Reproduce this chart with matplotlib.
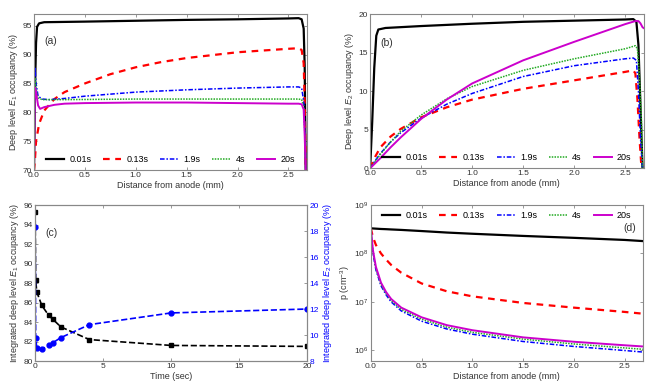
import numpy as np
import matplotlib
matplotlib.use("Agg")
import matplotlib.pyplot as plt
from matplotlib.ticker import NullLocator, MultipleLocator

plt.rcParams["font.family"] = ["Liberation Sans", "DejaVu Sans"]
plt.rcParams["mathtext.fontset"] = "custom"
plt.rcParams["mathtext.rm"] = "Liberation Sans"
plt.rcParams["mathtext.it"] = "Liberation Sans:italic"
plt.rcParams["font.size"] = 6.5

# ---- data ----
labels = ["0.01s", "0.13s", "1.9s", "4s", "20s"]

# (a) deep level E1 occupancy (%) vs distance (mm)
a_x_001 = [0, 0.01, 0.02, 0.03, 0.05, 0.1, 0.5, 1.0, 1.5, 2.0, 2.5, 2.6, 2.63, 2.65, 2.66, 2.67]
a_y_001 = [70, 84, 92, 94.8, 95.4, 95.6, 95.7, 95.85, 96.0, 96.1, 96.25, 96.3, 96.1, 94.5, 88, 70]
a_x_013 = [0, 0.01, 0.02, 0.05, 0.1, 0.2, 0.3, 0.5, 0.75, 1.0, 1.25, 1.5, 2.0, 2.5, 2.6, 2.63, 2.65, 2.66, 2.67]
a_y_013 = [70, 72, 75, 78, 80.3, 82.3, 83.5, 85.0, 86.6, 87.8, 88.7, 89.4, 90.4, 91.0, 91.1, 90.8, 88.5, 82, 70]
a_x_19 = [0, 0.005, 0.01, 0.02, 0.04, 0.08, 0.15, 0.3, 0.5, 1.0, 1.5, 2.0, 2.5, 2.6, 2.63, 2.65, 2.66, 2.67]
a_y_19 = [70, 80, 87.8, 85, 82.8, 82.3, 82.2, 82.4, 82.8, 83.5, 83.9, 84.2, 84.4, 84.4, 84.2, 82, 78, 70]
a_x_4 = [0, 0.005, 0.01, 0.02, 0.04, 0.08, 0.3, 1.0, 2.0, 2.6, 2.63, 2.65, 2.66, 2.67]
a_y_4 = [70, 80, 86, 84, 82.5, 82.2, 82.2, 82.3, 82.3, 82.3, 82.2, 81, 77, 70]
a_x_20 = [0, 0.005, 0.01, 0.02, 0.04, 0.06, 0.1, 0.2, 0.3, 0.5, 1.0, 1.5, 2.0, 2.5, 2.6, 2.63, 2.65, 2.66, 2.67]
a_y_20 = [70, 78, 84.3, 83.5, 81.2, 80.6, 80.9, 81.3, 81.5, 81.6, 81.7, 81.7, 81.6, 81.5, 81.5, 81.4, 80.5, 76, 70]

# (b) deep level E2 occupancy (%) vs distance (mm)
b_x_001 = [0, 0.02, 0.04, 0.06, 0.08, 0.15, 0.5, 1.0, 1.5, 2.0, 2.5, 2.58, 2.61, 2.63, 2.65, 2.67]
b_y_001 = [0, 6, 13, 17.2, 18.0, 18.2, 18.45, 18.75, 19.0, 19.15, 19.3, 19.35, 19.0, 16, 8, 0]
b_x_013 = [0, 0.05, 0.1, 0.2, 0.3, 0.5, 0.75, 1.0, 1.5, 2.0, 2.5, 2.58, 2.6, 2.62, 2.64, 2.66]
b_y_013 = [0, 1.5, 2.7, 4.1, 5.1, 6.6, 7.9, 8.9, 10.3, 11.4, 12.5, 12.7, 12.3, 9, 4, 0]
b_x_19 = [0, 0.05, 0.1, 0.2, 0.3, 0.5, 0.75, 1.0, 1.5, 2.0, 2.5, 2.58, 2.61, 2.63, 2.65, 2.67]
b_y_19 = [0, 1.0, 1.9, 3.4, 4.6, 6.5, 8.3, 9.7, 11.9, 13.3, 14.2, 14.3, 14.0, 10, 4, 0]
b_x_4 = [0, 0.05, 0.1, 0.2, 0.3, 0.5, 0.75, 1.0, 1.5, 2.0, 2.5, 2.6, 2.62, 2.64, 2.66, 2.67]
b_y_4 = [0, 0.9, 1.8, 3.4, 4.8, 6.9, 9.0, 10.6, 12.7, 14.2, 15.5, 15.9, 15.5, 12, 6, 0]
b_x_20 = [0, 0.1, 0.2, 0.3, 0.5, 0.75, 1.0, 1.5, 2.0, 2.5, 2.6, 2.63, 2.65, 2.67, 2.68]
b_y_20 = [0, 1.3, 2.7, 4.0, 6.4, 8.9, 11.0, 14.0, 16.4, 18.7, 19.1, 19.1, 18.8, 18.3, 18.2]

# (c) integrated occupancy vs time (sec)
c_time = [0.01, 0.05, 0.13, 0.5, 1.0, 1.3, 1.9, 4, 10, 20]
c_e1 = [95.3, 88.3, 87.1, 85.7, 84.7, 84.3, 83.5, 82.2, 81.6, 81.5]
c_e2 = [18.3, 9.8, 9.0, 8.9, 9.2, 9.4, 9.8, 10.8, 11.7, 12.0]

# (d) hole density p (cm^-3) vs distance (mm)
d_x = [0, 0.02, 0.05, 0.1, 0.15, 0.2, 0.3, 0.5, 0.75, 1.0, 1.5, 2.0, 2.5, 2.68]
d_001 = [3.3e8, 3.28e8, 3.25e8, 3.2e8, 3.17e8, 3.13e8, 3.06e8, 2.9e8, 2.7e8, 2.55e8, 2.3e8, 2.1e8, 1.9e8, 1.8e8]
d_013 = [3.3e8, 2.2e8, 1.5e8, 1.0e8, 7.5e7, 5.8e7, 4.0e7, 2.4e7, 1.65e7, 1.3e7, 9.5e6, 7.6e6, 6.2e6, 5.7e6]
d_19 = [3.3e8, 1.05e8, 4.6e7, 2.15e7, 1.4e7, 1.0e7, 6.5e6, 4.0e6, 2.75e6, 2.15e6, 1.52e6, 1.2e6, 9.9e5, 9.2e5]
d_4 = [3.3e8, 1.1e8, 4.9e7, 2.3e7, 1.5e7, 1.07e7, 7.0e6, 4.4e6, 3.0e6, 2.35e6, 1.7e6, 1.35e6, 1.12e6, 1.05e6]
d_20 = [3.3e8, 1.2e8, 5.3e7, 2.5e7, 1.6e7, 1.15e7, 7.6e6, 4.8e6, 3.3e6, 2.6e6, 1.85e6, 1.5e6, 1.27e6, 1.2e6]

# line styles per time
styles = [
    dict(color="black", ls="-", lw=1.6),
    dict(color="#ff0000", ls=(0, (3, 2.5)), lw=1.6),
    dict(color="#0000ff", ls=(0, (3, 1.2, 1, 1.2)), lw=1.1),
    dict(color="#22aa22", ls=(0, (1, 0.8)), lw=1.1),
    dict(color="#cc00cc", ls="-", lw=1.4),
]
SPINE = "#888888"
TXT = "#333333"
LEG = dict(ncol=5, frameon=False, fontsize=6.5, handlelength=2.0,
           columnspacing=1.3, handletextpad=0.6, borderaxespad=0.3)


def style_ax(ax, right=True):
    for s in ax.spines.values():
        s.set_color(SPINE)
    ax.tick_params(direction="in", length=2.5, width=0.6, color=SPINE,
                   labelcolor=TXT, labelsize=6, top=True, right=right, pad=1.5)


fig = plt.figure(figsize=(6.54, 3.92), dpi=100)
ax_a = fig.add_axes([0.052, 0.566, 0.417, 0.398])
ax_b = fig.add_axes([0.566, 0.571, 0.418, 0.393])
ax_c = fig.add_axes([0.0535, 0.079, 0.416, 0.398])
ax_d = fig.add_axes([0.567, 0.079, 0.416, 0.398])

# (a)
a_series = [(a_x_001, a_y_001), (a_x_013, a_y_013), (a_x_19, a_y_19), (a_x_4, a_y_4), (a_x_20, a_y_20)]
for (x, y), st, lab in zip(a_series, styles, labels):
    ax_a.plot(x, y, label=lab, **st)
ax_a.set_xlim(0, 2.68)
ax_a.set_ylim(70, 97)
ax_a.yaxis.set_major_locator(MultipleLocator(5))
ax_a.set_xlabel("Distance from anode (mm)", color=TXT, labelpad=1)
ax_a.set_ylabel("Deep level $E_1$ occupancy (%)", color=TXT, labelpad=2)
ax_a.text(0.037, 0.83, "(a)", transform=ax_a.transAxes, va="center", fontsize=7.5, color=TXT)
ax_a.legend(loc="lower center", bbox_to_anchor=(0.5, 0.0), **LEG)
style_ax(ax_a)

# (b)
b_series = [(b_x_001, b_y_001), (b_x_013, b_y_013), (b_x_19, b_y_19), (b_x_4, b_y_4), (b_x_20, b_y_20)]
for (x, y), st, lab in zip(b_series, styles, labels):
    ax_b.plot(x, y, label=lab, **st)
ax_b.set_xlim(0, 2.68)
ax_b.set_ylim(0, 20)
ax_b.yaxis.set_major_locator(MultipleLocator(5))
ax_b.set_xlabel("Distance from anode (mm)", color=TXT, labelpad=1)
ax_b.set_ylabel("Deep level $E_2$ occupancy (%)", color=TXT, labelpad=2)
ax_b.text(0.037, 0.81, "(b)", transform=ax_b.transAxes, va="center", fontsize=7.5, color=TXT)
ax_b.legend(loc="lower center", bbox_to_anchor=(0.5, 0.0), **LEG)
style_ax(ax_b)

# (c)
ax_c.plot(c_time, c_e1, color="black", ls="--", lw=1.2, marker="s", ms=3.5)
ax_c.set_xlim(0, 20)
ax_c.set_ylim(80, 96)
ax_c.yaxis.set_major_locator(MultipleLocator(2))
ax_c.xaxis.set_major_locator(MultipleLocator(5))
ax_c.set_xlabel("Time (sec)", color=TXT, labelpad=1)
ax_c.set_ylabel("Integrated deep level $E_1$ occupancy (%)", color=TXT, labelpad=2)
ax_c.text(0.037, 0.82, "(c)", transform=ax_c.transAxes, va="center", fontsize=7.5, color=TXT)
style_ax(ax_c, right=False)
ax_c2 = ax_c.twinx()
ax_c2.plot(c_time, c_e2, color="#0000ff", ls="--", lw=1.2, marker="o", ms=3.5)
ax_c2.set_ylim(8, 20)
ax_c2.yaxis.set_major_locator(MultipleLocator(2))
ax_c2.set_ylabel("Integrated deep level $E_2$ occupancy (%)", color="#0000ff", labelpad=2)
for s in ax_c2.spines.values():
    s.set_color(SPINE)
ax_c2.tick_params(direction="in", length=2.5, width=0.6, color=SPINE,
                  labelcolor="#0000ff", labelsize=6, pad=1.5)

# (d)
d_series = [d_001, d_013, d_19, d_4, d_20]
for y, st, lab in zip(d_series, styles, labels):
    ax_d.plot(d_x, y, label=lab, **st)
ax_d.set_yscale("log")
ax_d.set_xlim(0, 2.68)
ax_d.set_ylim(6e5, 1e9)
ax_d.yaxis.set_minor_locator(NullLocator())
ax_d.set_xlabel("Distance from anode (mm)", color=TXT, labelpad=1)
ax_d.set_ylabel("p (cm$^{-3}$)", color=TXT, labelpad=2)
ax_d.text(0.977, 0.85, "(d)", transform=ax_d.transAxes, va="center", ha="right", fontsize=7.5, color=TXT)
ax_d.legend(loc="upper center", bbox_to_anchor=(0.5, 1.0), **LEG)
style_ax(ax_d)

fig.savefig("out.png", dpi=100)
